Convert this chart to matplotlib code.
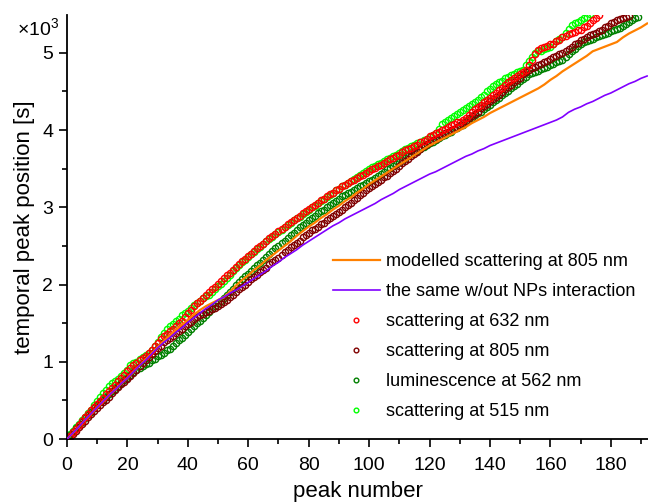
import numpy as np
import matplotlib
matplotlib.use('Agg')
import matplotlib.pyplot as plt
from matplotlib.ticker import MultipleLocator

plt.rcParams['font.family'] = ['Liberation Sans', 'DejaVu Sans']
plt.rcParams['mathtext.fontset'] = 'custom'
plt.rcParams['mathtext.rm'] = 'Liberation Sans'

# temporal peak positions in units of 10^3 s, one value per peak (starting at peak 1)
scat_632 = [
    0.04, 0.09, 0.13, 0.18, 0.23, 0.28, 0.32, 0.37, 0.41, 0.45, 0.49, 0.53, 0.58, 0.62, 0.66, 0.70,
    0.75, 0.79, 0.83, 0.88, 0.92, 0.96, 0.99, 1.02, 1.05, 1.08, 1.11, 1.15, 1.20, 1.24, 1.29, 1.33,
    1.36, 1.40, 1.43, 1.46, 1.50, 1.53, 1.58, 1.63, 1.67, 1.72, 1.76, 1.79, 1.83, 1.86, 1.90, 1.94,
    1.97, 2.01, 2.04, 2.08, 2.12, 2.15, 2.19, 2.23, 2.26, 2.30, 2.33, 2.37, 2.40, 2.43, 2.47, 2.50,
    2.53, 2.56, 2.60, 2.63, 2.66, 2.69, 2.72, 2.75, 2.78, 2.81, 2.84, 2.86, 2.89, 2.92, 2.95, 2.98,
    3.01, 3.03, 3.06, 3.09, 3.11, 3.14, 3.17, 3.19, 3.22, 3.24, 3.27, 3.29, 3.31, 3.34, 3.36, 3.38,
    3.40, 3.42, 3.45, 3.47, 3.49, 3.51, 3.53, 3.55, 3.57, 3.60, 3.62, 3.64, 3.66, 3.68, 3.71, 3.74,
    3.76, 3.77, 3.79, 3.81, 3.84, 3.86, 3.89, 3.92, 3.94, 3.96, 3.98, 4.00, 4.02, 4.04, 4.06, 4.08,
    4.10, 4.11, 4.13, 4.16, 4.20, 4.23, 4.27, 4.30, 4.33, 4.36, 4.39, 4.42, 4.45, 4.48, 4.52, 4.55,
    4.58, 4.62, 4.65, 4.68, 4.70, 4.73, 4.75, 4.78, 4.84, 4.91, 4.98, 5.04, 5.06, 5.07, 5.09, 5.11,
    5.12, 5.15, 5.17, 5.20, 5.22, 5.25, 5.26, 5.27, 5.29, 5.30, 5.33, 5.35, 5.38, 5.42, 5.45, 5.49]

scat_805 = [
    0.03, 0.07, 0.11, 0.15, 0.19, 0.23, 0.28, 0.32, 0.36, 0.40, 0.44, 0.48, 0.51, 0.55, 0.59, 0.63,
    0.67, 0.71, 0.74, 0.78, 0.82, 0.86, 0.90, 0.94, 0.98, 1.02, 1.06, 1.10, 1.14, 1.18, 1.21, 1.25,
    1.28, 1.31, 1.34, 1.37, 1.40, 1.43, 1.46, 1.49, 1.52, 1.55, 1.58, 1.60, 1.62, 1.64, 1.66, 1.68,
    1.70, 1.72, 1.75, 1.77, 1.80, 1.84, 1.87, 1.90, 1.94, 1.97, 2.00, 2.03, 2.07, 2.10, 2.13, 2.16,
    2.19, 2.22, 2.26, 2.29, 2.32, 2.35, 2.38, 2.42, 2.45, 2.48, 2.51, 2.54, 2.57, 2.61, 2.64, 2.67,
    2.70, 2.72, 2.75, 2.78, 2.80, 2.83, 2.86, 2.89, 2.91, 2.94, 2.97, 3.00, 3.03, 3.06, 3.09, 3.12,
    3.16, 3.19, 3.22, 3.25, 3.28, 3.30, 3.33, 3.36, 3.39, 3.41, 3.44, 3.47, 3.50, 3.53, 3.57, 3.60,
    3.63, 3.66, 3.69, 3.72, 3.76, 3.79, 3.82, 3.85, 3.87, 3.89, 3.91, 3.93, 3.96, 3.98, 4.00, 4.02,
    4.04, 4.07, 4.09, 4.12, 4.15, 4.18, 4.21, 4.24, 4.28, 4.31, 4.34, 4.37, 4.40, 4.43, 4.46, 4.49,
    4.53, 4.56, 4.59, 4.62, 4.65, 4.68, 4.72, 4.75, 4.78, 4.80, 4.82, 4.84, 4.86, 4.88, 4.90, 4.92,
    4.94, 4.96, 4.98, 5.00, 5.03, 5.05, 5.08, 5.11, 5.13, 5.16, 5.18, 5.21, 5.23, 5.25, 5.26, 5.28,
    5.30, 5.33, 5.35, 5.38, 5.40, 5.43, 5.44, 5.45, 5.47, 5.48]

lum_562 = [
    0.05, 0.09, 0.14, 0.18, 0.22, 0.27, 0.31, 0.35, 0.40, 0.44, 0.48, 0.51, 0.55, 0.58, 0.62, 0.65,
    0.69, 0.72, 0.76, 0.79, 0.83, 0.87, 0.90, 0.92, 0.94, 0.97, 0.99, 1.02, 1.04, 1.07, 1.09, 1.12,
    1.15, 1.17, 1.20, 1.24, 1.28, 1.31, 1.35, 1.39, 1.42, 1.46, 1.50, 1.53, 1.57, 1.61, 1.65, 1.68,
    1.72, 1.76, 1.79, 1.83, 1.86, 1.90, 1.94, 1.99, 2.03, 2.07, 2.11, 2.14, 2.18, 2.21, 2.25, 2.28,
    2.32, 2.36, 2.40, 2.43, 2.47, 2.50, 2.54, 2.57, 2.60, 2.64, 2.67, 2.70, 2.74, 2.77, 2.80, 2.84,
    2.86, 2.89, 2.92, 2.95, 2.97, 3.00, 3.03, 3.06, 3.08, 3.11, 3.14, 3.16, 3.18, 3.20, 3.23, 3.25,
    3.27, 3.29, 3.31, 3.34, 3.36, 3.38, 3.41, 3.43, 3.46, 3.49, 3.51, 3.54, 3.56, 3.59, 3.61, 3.64,
    3.66, 3.69, 3.71, 3.73, 3.76, 3.78, 3.81, 3.83, 3.85, 3.87, 3.90, 3.92, 3.94, 3.96, 3.98, 4.01,
    4.03, 4.05, 4.07, 4.10, 4.13, 4.16, 4.19, 4.22, 4.24, 4.27, 4.30, 4.33, 4.36, 4.39, 4.42, 4.45,
    4.48, 4.51, 4.54, 4.57, 4.60, 4.63, 4.66, 4.69, 4.72, 4.74, 4.75, 4.77, 4.79, 4.81, 4.82, 4.84,
    4.86, 4.88, 4.89, 4.91, 4.95, 4.98, 5.02, 5.05, 5.09, 5.12, 5.14, 5.15, 5.17, 5.18, 5.20, 5.22,
    5.23, 5.25, 5.26, 5.28, 5.29, 5.31, 5.32, 5.35, 5.37, 5.40, 5.42, 5.45, 5.47]

scat_515 = [
    0.07, 0.11, 0.16, 0.20, 0.25, 0.29, 0.34, 0.38, 0.44, 0.49, 0.54, 0.59, 0.64, 0.68, 0.72, 0.75,
    0.78, 0.82, 0.86, 0.90, 0.96, 0.98, 1.00, 1.03, 1.06, 1.09, 1.12, 1.15, 1.21, 1.26, 1.32, 1.37,
    1.42, 1.46, 1.49, 1.53, 1.56, 1.60, 1.63, 1.66, 1.70, 1.73, 1.76, 1.79, 1.82, 1.85, 1.87, 1.90,
    1.94, 1.98, 2.01, 2.05, 2.09, 2.13, 2.17, 2.21, 2.25, 2.29, 2.32, 2.36, 2.39, 2.42, 2.46, 2.49,
    2.52, 2.56, 2.59, 2.62, 2.65, 2.68, 2.71, 2.74, 2.77, 2.80, 2.83, 2.86, 2.88, 2.91, 2.94, 2.97,
    3.00, 3.02, 3.05, 3.08, 3.11, 3.13, 3.16, 3.19, 3.22, 3.24, 3.27, 3.29, 3.32, 3.34, 3.37, 3.39,
    3.42, 3.44, 3.47, 3.49, 3.52, 3.54, 3.56, 3.58, 3.60, 3.62, 3.64, 3.66, 3.68, 3.70, 3.73, 3.75,
    3.77, 3.79, 3.81, 3.83, 3.85, 3.87, 3.89, 3.91, 3.93, 3.96, 4.02, 4.08, 4.11, 4.13, 4.16, 4.18,
    4.21, 4.23, 4.26, 4.29, 4.31, 4.34, 4.36, 4.39, 4.43, 4.46, 4.50, 4.53, 4.57, 4.60, 4.62, 4.64,
    4.67, 4.69, 4.71, 4.73, 4.75, 4.76, 4.78, 4.84, 4.89, 4.95, 5.00, 5.02, 5.03, 5.05, 5.06, 5.08,
    5.11, 5.15, 5.18, 5.21, 5.26, 5.31, 5.36, 5.38, 5.40, 5.43, 5.45, 5.47, 5.50]

# model curves, sampled every second peak from 0 to 192
model_peaks = list(range(0, 193, 2))
model_805 = [
    0.00, 0.08, 0.16, 0.25, 0.33, 0.41, 0.49, 0.57, 0.64, 0.72, 0.79, 0.87, 0.95, 1.03, 1.11, 1.19,
    1.27, 1.34, 1.41, 1.48, 1.54, 1.61, 1.67, 1.72, 1.76, 1.80, 1.84, 1.91, 1.99, 2.06, 2.12, 2.19,
    2.25, 2.32, 2.38, 2.44, 2.50, 2.56, 2.63, 2.69, 2.75, 2.80, 2.86, 2.91, 2.97, 3.02, 3.08, 3.13,
    3.19, 3.24, 3.30, 3.35, 3.40, 3.45, 3.50, 3.55, 3.60, 3.65, 3.70, 3.75, 3.80, 3.84, 3.88, 3.92,
    3.96, 4.00, 4.04, 4.09, 4.13, 4.17, 4.22, 4.26, 4.30, 4.34, 4.38, 4.42, 4.46, 4.50, 4.54, 4.59,
    4.65, 4.70, 4.76, 4.81, 4.86, 4.91, 4.96, 5.02, 5.05, 5.08, 5.11, 5.14, 5.20, 5.25, 5.29, 5.33,
    5.38]
model_no_np = [
    0.00, 0.08, 0.16, 0.25, 0.33, 0.41, 0.49, 0.57, 0.64, 0.72, 0.79, 0.87, 0.95, 1.02, 1.10, 1.18,
    1.25, 1.31, 1.38, 1.44, 1.51, 1.57, 1.63, 1.69, 1.74, 1.80, 1.84, 1.89, 1.93, 1.98, 2.03, 2.08,
    2.13, 2.18, 2.24, 2.29, 2.35, 2.40, 2.45, 2.51, 2.56, 2.61, 2.66, 2.71, 2.76, 2.80, 2.85, 2.89,
    2.93, 2.97, 3.01, 3.05, 3.10, 3.14, 3.18, 3.23, 3.27, 3.31, 3.35, 3.39, 3.43, 3.46, 3.50, 3.54,
    3.58, 3.62, 3.66, 3.69, 3.73, 3.76, 3.80, 3.83, 3.86, 3.89, 3.92, 3.95, 3.98, 4.01, 4.04, 4.07,
    4.10, 4.13, 4.17, 4.23, 4.27, 4.30, 4.34, 4.37, 4.41, 4.45, 4.48, 4.52, 4.56, 4.60, 4.63, 4.67,
    4.70]

fig = plt.figure(figsize=(6.48, 5.03), dpi=100)
ax = fig.add_axes([0.1034, 0.1272, 0.8966, 0.8430])

# measured peaks as open circles
series = [
    (scat_515, '#00ff00', 'scattering at 515 nm'),
    (lum_562, '#008000', 'luminescence at 562 nm'),
    (scat_805, '#800000', 'scattering at 805 nm'),
    (scat_632, '#ff0000', 'scattering at 632 nm'),
]
handles = {}
for vals, col, lab in series:
    peaks = np.arange(1, len(vals) + 1)
    h, = ax.plot(peaks, vals, ls='none', marker='o', ms=4.5, mfc='none',
                 mec=col, mew=1.0, label=lab)
    handles[lab] = h

h1, = ax.plot(model_peaks, model_805, color='#ff8000', lw=1.6,
              label='modelled scattering at 805 nm', zorder=5)
h2, = ax.plot(model_peaks, model_no_np, color='#8000ff', lw=1.2,
              label='the same w/out NPs interaction', zorder=5)

ax.set_xlim(0, 192.3)
ax.set_ylim(0, 5.49)
ax.xaxis.set_major_locator(MultipleLocator(20))
ax.xaxis.set_minor_locator(MultipleLocator(10))
ax.yaxis.set_major_locator(MultipleLocator(1))
ax.yaxis.set_minor_locator(MultipleLocator(0.5))
ax.tick_params(which='major', direction='out', length=6, width=1.2, labelsize=14, pad=4)
ax.tick_params(which='minor', direction='out', length=3.5, width=1.2)
ax.tick_params(axis='x', which='major', pad=7)
for s in ['top', 'right']:
    ax.spines[s].set_visible(False)
for s in ['left', 'bottom']:
    ax.spines[s].set_linewidth(1.3)

ax.set_xlabel('peak number', fontsize=16, labelpad=5)
ax.set_ylabel('temporal peak position [s]', fontsize=16, labelpad=5)
fig.text(0.091, 0.928, r'$\times10^3$', fontsize=14, ha='right', va='baseline')

order = [h1, h2, handles['scattering at 632 nm'], handles['scattering at 805 nm'],
         handles['luminescence at 562 nm'], handles['scattering at 515 nm']]
ax.legend(handles=order, loc='upper left', bbox_to_anchor=(0.445, 0.455), frameon=False,
          fontsize=13, handlelength=2.6, handletextpad=0.35, labelspacing=0.72,
          markerscale=0.75, borderaxespad=0)

fig.savefig('out.png', dpi=100)
